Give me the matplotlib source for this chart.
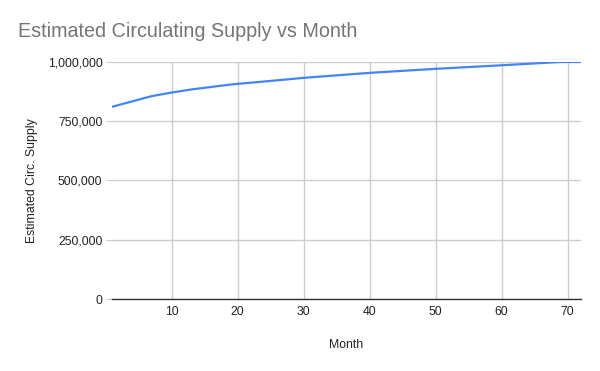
import matplotlib
matplotlib.use('Agg')
import matplotlib.pyplot as plt
from matplotlib.ticker import FuncFormatter

# values
months = [1, 7, 10, 13, 19, 25, 30, 40, 50, 60, 69, 72]
supply = [811000, 856000, 871000, 884000, 905000, 920000, 933000,
          954000, 971000, 986000, 1000000, 1000000]
x_ticks = [10, 20, 30, 40, 50, 60, 70]
y_ticks = [0, 250000, 500000, 750000, 1000000]

plt.rcParams['font.family'] = ['Liberation Sans', 'DejaVu Sans']

fig = plt.figure(figsize=(6, 3.71), dpi=100)
ax = fig.add_axes([0.187, 0.194, 0.781, 0.639])

ax.plot(months, supply, color='#4285F4', linewidth=1.6, solid_capstyle='round')

ax.set_xlim(1, 72)
ax.set_ylim(0, 1000000)
ax.set_xticks(x_ticks)
ax.set_yticks(y_ticks)
ax.yaxis.set_major_formatter(FuncFormatter(lambda v, p: f'{int(v):,}'))

ax.grid(True, color='#cccccc', linewidth=1)
ax.set_axisbelow(True)
for side in ['top', 'right', 'left']:
  ax.spines[side].set_visible(False)
ax.spines['bottom'].set_color('#333333')
ax.spines['bottom'].set_linewidth(1)

ax.tick_params(axis='x', length=0, pad=5, labelsize=8.8, labelcolor='#222222')
ax.tick_params(axis='y', length=4, color='#cccccc', pad=3, labelsize=8.8, labelcolor='#222222')

ax.set_xlabel('Month', fontsize=8.8, color='#222222', labelpad=15)
ax.set_ylabel('Estimated Circ. Supply', fontsize=8.8, color='#222222', labelpad=7)

fig.text(0.03, 0.915, 'Estimated Circulating Supply vs Month', fontsize=14.2,
         color='#757575', va='center', ha='left')

fig.savefig('out.png', dpi=100, facecolor='white')
